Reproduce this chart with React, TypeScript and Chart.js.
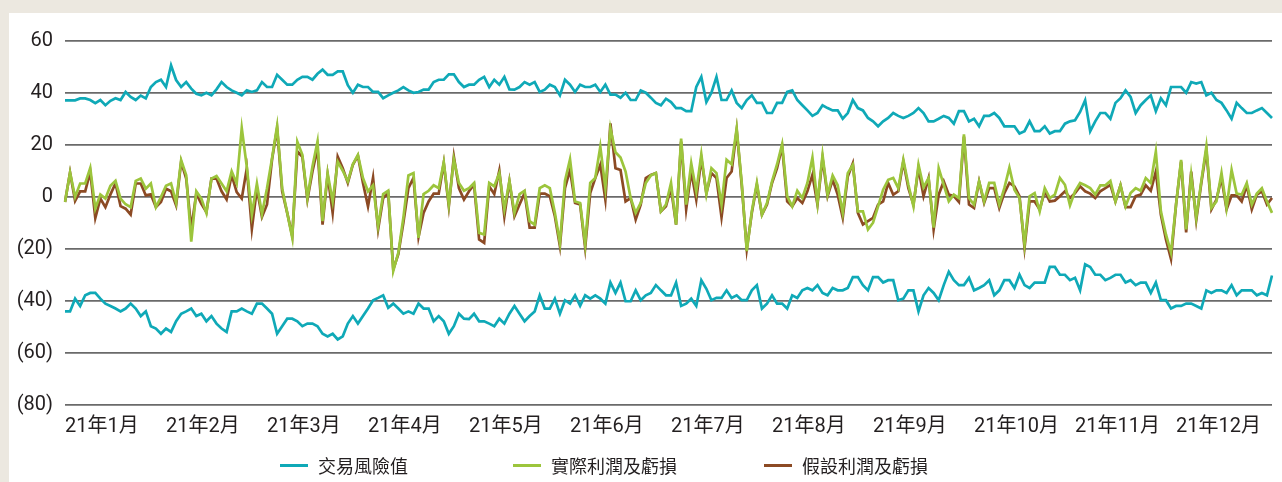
import React, { useEffect, useRef } from 'react';
import { Chart, registerables } from 'chart.js';

Chart.register(...registerables);

const monthLabels = ['21年1月', '21年2月', '21年3月', '21年4月', '21年5月', '21年6月', '21年7月', '21年8月', '21年9月', '21年10月', '21年11月', '21年12月'];
const pointsPerMonth = 20;

const yTicks = [60, 40, 20, 0, -20, -40, -60, -80];

// 交易風險值 (upper bound)
const varUpper = [
  37.2, 37.2, 37.2, 37.9, 37.9, 37.3, 36.1, 37.3, 35.3, 37, 38, 37.3, 40.4, 38.5, 37.3, 39, 37.9, 42.3, 44.2, 45.1,
  42.3, 50.6, 45, 42.3, 44.2, 41.7, 39.7, 39.1, 40.1, 39.1, 41.4, 44.2, 42.3, 41, 40.1, 39.1, 41, 40.4, 41, 44.2,
  42.3, 42.3, 47, 45.1, 43.2, 43.2, 45.1, 46.2, 46.2, 45.1, 47.4, 49, 47, 47, 48.3, 48.3, 43, 40.1, 43.2, 42.3,
  42.3, 40.4, 40.4, 38, 39.1, 40.1, 41, 42.3, 41, 40.1, 40.4, 41.3, 41.3, 44.2, 45.1, 45.1, 47.2, 47.2, 44.2, 42.3,
  43.2, 43.2, 45.1, 46.2, 42.3, 45.1, 43.2, 46.2, 41.4, 41.3, 42.3, 44.2, 43.2, 44.2, 40.4, 41.3, 43.2, 42.3, 39.1, 45.1,
  43.2, 40.4, 43.2, 42.3, 42.3, 43.2, 40.4, 43.2, 39.4, 39.4, 38.2, 40.1, 37.3, 37.3, 41, 40.1, 38.2, 36.2, 35.3, 37.8,
  36.5, 34.2, 34.2, 33, 33, 42.3, 46.2, 36.5, 40.1, 46.2, 37.3, 37.3, 41, 36.2, 34.2, 37.3, 39.1, 36.2, 36.2, 32.3,
  32.3, 36.2, 36.2, 40.4, 41, 37.3, 35.3, 33.3, 31.2, 32.3, 35.3, 34.2, 33.3, 33.3, 30.1, 32.3, 37.3, 34.2, 33.3, 30.4,
  29.1, 27.2, 29.1, 30.4, 32.3, 31.2, 30.4, 31.2, 32.3, 34.2, 32.3, 29.1, 29.1, 30.1, 31.2, 30.4, 28.2, 33, 33, 29.1,
  30.1, 27.2, 31.2, 31.2, 32.3, 30.4, 27.2, 27.2, 27.2, 24.4, 25.3, 29.1, 25.3, 25.3, 27.2, 24.4, 25.3, 25.3, 28.2, 29.1,
  29.5, 32.7, 37.2, 25.3, 29.1, 32.3, 32.3, 30.1, 36.2, 38, 41, 38.5, 32.3, 35.3, 37.3, 39.1, 33, 38, 35.3, 42.3,
  42.3, 42.3, 40.1, 44.2, 43.6, 44.2, 39.1, 40.1, 37.3, 36.2, 33.3, 30.1, 36.2, 34.2, 32.3, 32.3, 33.3, 34.2, 32.3, 30.4,
];

// 交易風險值 (lower bound)
const varLower = [
  -44, -44, -39.1, -41.9, -37.8, -36.9, -36.9, -39.1, -41, -41.9, -42.9, -44, -42.9, -41, -42.9, -45.8, -44, -49.7, -50.6, -52.6,
  -50.6, -51.9, -47.8, -44.9, -44, -42.9, -45.8, -44.9, -47.8, -45.8, -48.7, -50.6, -51.9, -44, -44, -42.9, -44, -44.9, -41, -41,
  -42.9, -44.9, -52.6, -49.7, -46.8, -46.8, -47.8, -49.7, -48.7, -48.7, -49.7, -52.6, -53.6, -52.6, -54.8, -53.6, -48.7, -45.8, -48.7, -45.8,
  -42.9, -39.7, -38.8, -37.8, -42.6, -41, -42.9, -44.9, -44, -44.9, -41, -42.9, -42.9, -47.8, -45.8, -47.8, -52.6, -49.7, -44.9, -46.8,
  -47, -44.9, -47.8, -47.8, -48.7, -49.7, -46.8, -48.7, -44.9, -41.9, -44.9, -47.8, -45.8, -44, -37.8, -42.9, -42.9, -39.1, -44.9, -39.7,
  -41, -37.8, -41.9, -37.8, -39.1, -37.8, -39.1, -41, -32.9, -36.9, -32.9, -40.1, -40.1, -35.9, -39.7, -37.8, -36.9, -33.9, -35.9, -37.8,
  -37.8, -32.9, -41.9, -41, -39.1, -41.9, -32, -35.3, -39.7, -38.8, -38.8, -35.9, -38.8, -37.8, -39.7, -39.7, -35.9, -33.9, -42.9, -41,
  -37.8, -41, -41, -42.9, -37.8, -38.8, -35.9, -35, -35.9, -33.9, -36.9, -37.8, -35, -35.9, -35.9, -35, -30.8, -30.8, -33.9, -35.9,
  -30.8, -30.8, -32.9, -32, -32, -39.7, -39.1, -35.9, -35.9, -44, -37.8, -35, -36.9, -39.7, -33.9, -28.8, -32, -33.9, -33.9, -31.1,
  -35.9, -35, -33.9, -32, -37.8, -35.9, -32, -32, -35, -29.9, -33.9, -35, -32.9, -32.9, -32.9, -26.9, -26.9, -29.9, -29.9, -32,
  -31.1, -35.9, -25.9, -26.9, -29.9, -29.9, -32, -31.1, -29.9, -29.9, -32.9, -32, -33.9, -32.9, -32.9, -36.9, -32.9, -39.7, -39.7, -42.9,
  -41.9, -41.9, -41, -41, -41.9, -42.9, -35.9, -36.9, -35.9, -35.9, -36.9, -33.9, -37.8, -35.9, -35.9, -35.9, -37.8, -36.9, -37.8, -30.2,
];

// 實際利潤及虧損
const actualPL = [
  -1.9, 9.4, 0, 5.2, 5.2, 11.2, -4.5, 1, -0.6, 4.3, 6.2, -0.6, -2.8, -3.9, 6.2, 7.1, 3.2, 5.2, -3.9, 0,
  4.3, 5.2, -2.2, 14.2, 8.4, -17.2, 2.2, -0.6, -6.2, 7.1, 8.1, 5.2, 2.2, 9.9, 5.2, 26.5, 11.6, -6.8, 5.2, -6.5,
  3.4, 14.9, 27.3, 3.4, -6.1, -15.7, 21.3, 16.2, -0.4, 11.7, 21.3, -9.3, 9.2, -1.7, 13.6, 10.1, 6, 12.6, 16.2, 7.3,
  2.2, 4.5, -11.2, 1.1, 2.4, -28.4, -21.4, -8, 8.3, 9.2, -15.7, 1.1, 2.4, 4.5, 3.4, 13.4, -2.9, 14.5, 5.4, 2.4,
  3.4, 5.4, -13.8, -14.4, 5.4, 4.1, 9.2, -4.8, 6.2, -6.1, 1.1, 2.4, -9.3, -10.6, 3.4, 4.5, 3.4, -6.1, -17.6, 6.2,
  14.5, -1.7, -2.3, -18.2, 5.4, 7.3, 19.4, 3.4, 26.4, 17.2, 15.2, 9.8, -0.4, -6.1, -2.3, 5.4, 8.3, 9.2, -5.5, -2.9,
  5.4, -10.6, 22.5, -2.9, 13, 2.2, 16.4, 1.1, 11.1, 9.2, -2.9, 14.3, 12.6, 26.4, 5.4, -20.8, -5.5, 5.4, -6.8, -2.3,
  6, 12.6, 20.3, 0.3, -3.6, 2.4, -0.4, 5.4, 15.2, -2.3, 16.2, 0.9, 8.3, 4.5, -6.1, 9.2, 12.4, -5.5, -5.5, -12.5,
  -9.9, -3.6, 2.8, 6.6, 7.3, 3.4, 14.3, 4.7, -3.6, 12.4, 3.7, 7.3, -11.8, 11.1, 4.7, -1.7, 0.9, -0.4, 24.1, -0.4,
  -2.9, 6, -1.7, 5.4, 5.4, -2.9, 3.4, 11.3, 2.8, -0.4, -18.2, 0.3, 1.5, -5.5, 3.4, -0.4, 0.9, 7.3, 4.7, -3.2,
  2.2, 5.4, 4.5, 3.4, 0.9, 4.5, 4.5, 6.2, -1.7, 4.5, -3.6, 1.5, 3.4, 2.4, 7.3, 5.4, 17.5, -5.5, -14.4, -21.4,
  -2.9, 14.3, -12.5, 8.5, -8, 6, 19.4, -4.2, -1.7, 9.2, -4.2, 10.4, 1.3, 0.9, 5.4, -2.9, 1.3, 3.4, -1.7, -6.1,
];

// 假設利潤及虧損
const hypotheticalPL = [
  -1.9, 9.4, -1.5, 2.2, 2.2, 9.7, -8.1, -0.6, -3.9, 1, 5.2, -3.5, -4.5, -6.8, 5.2, 5.2, 0.6, 1, -3.9, -1.9,
  3.2, 2.2, -3.2, 13.5, 7.1, -12.3, 1.3, -2.6, -5.8, 7.1, 7.1, 2.2, -0.9, 8.4, 1.9, -0.6, 11, -12.3, 3.2, -7.7,
  -2.9, 14.5, 26.4, 2.2, -6.1, -15, 17.5, 15.5, -1, 9.8, 18.7, -10.6, 8.5, -6.1, 15.5, 11.1, 5.4, 12.4, 15.9, 5.4,
  -3.6, 7.5, -12.5, -0.4, 1.5, -27.8, -22, -9.9, 3.4, 7.3, -15.4, -6.1, -1.7, 1.3, 1.3, 13, -3.6, 15.5, 3.4, -1,
  2.2, 4.7, -16.3, -17.6, 4.1, 1.1, 10.1, -7.4, 6, -7.4, -2.9, 1.5, -11.8, -11.8, 1.3, 1.3, 0.3, -7.4, -18.9, 3.4,
  10.4, -2.3, -2.9, -19.5, 1.5, 7.3, 12.4, -1, 28.3, 11.1, 10.4, -1.7, -0.4, -8.7, -2.9, 7.3, 8.5, 9.2, -5.5, -3.6,
  3.4, -10.6, 21.3, -4.8, 9.8, -1, 14.9, 1.5, 9.2, 7.3, -7.8, 7.3, 9.8, 25.7, 4.7, -20.1, -6.1, 4.7, -6.8, -2.9,
  5.4, 11.1, 19.4, -1.7, -3.6, -0.4, -2.3, 2.2, 8.5, -2.9, 14.9, 0.3, 6.6, 0.9, -8, 7.9, 13, -6.1, -10.6, -9.3,
  -8, -2.9, -1.7, 5.4, 0.9, 2.2, 13.6, 3.4, -2.9, 11.1, 0.3, 7.3, -12.5, 0.9, 6, 0.9, 0.3, -1.9, 23.2, -2.9,
  -4.2, 6, -2.3, 3.4, 3.4, -4.2, 1.5, 5.4, 4.1, 0.3, -19.5, -1.7, -1.7, -4.8, 2.2, -1.7, -1.4, 0.3, 2.2, -0.4,
  1.5, 4.1, 2.2, 1.3, -0.4, 2.2, 3.4, 4.7, -1.7, 4.5, -3.9, -3.9, 0.3, 0.9, 4.5, 2.4, 9.8, -6.8, -16.3, -23.8,
  -2.9, 13.6, -13.6, 9.8, -8.9, 5.4, 18.1, -4.8, -1, 7.3, -4.8, 0.6, 0.6, -1.7, 4.5, -4.8, 0.9, 2.2, -2.9, -0.4,
];

const seriesNames = ['交易風險值', '實際利潤及虧損', '假設利潤及虧損'];

const TEAL = '#0fa9b7';
const GREEN = '#9cc53c';
const BROWN = '#8c4a24';
const GRID = '#6a6a6a';
const TEXT = '#231f20';
const BEIGE = '#ece8e0';
const FONT = "Roboto, 'Noto Sans CJK TC', sans-serif";

const categoryLabels = varUpper.map((_, i) => monthLabels[Math.floor(i / pointsPerMonth)]);

export default function App() {
  const canvasRef = useRef<HTMLCanvasElement>(null);

  useEffect(() => {
    const canvas = canvasRef.current;
    if (!canvas) return;
    const chart = new Chart(canvas, {
      type: 'line',
      data: {
        labels: categoryLabels,
        datasets: [
          { label: seriesNames[0], data: varUpper, borderColor: TEAL, backgroundColor: TEAL },
          { label: seriesNames[0], data: varLower, borderColor: TEAL, backgroundColor: TEAL },
          { label: seriesNames[1], data: actualPL, borderColor: GREEN, backgroundColor: GREEN },
          { label: seriesNames[2], data: hypotheticalPL, borderColor: BROWN, backgroundColor: BROWN },
        ],
      },
      options: {
        animation: false,
        responsive: false,
        layout: { padding: { top: 28, bottom: 33, left: 0, right: 0 } },
        elements: {
          point: { radius: 0, hoverRadius: 0 },
          line: { borderWidth: 2.7, tension: 0, borderJoinStyle: 'miter' },
        },
        plugins: { legend: { display: false }, tooltip: { enabled: false } },
        scales: {
          x: {
            grid: { display: false, drawTicks: false },
            border: { display: false },
            ticks: {
              autoSkip: false,
              maxRotation: 0,
              minRotation: 0,
              align: 'start',
              padding: 10,
              color: TEXT,
              font: { family: FONT, size: 20 },
              callback: (_v: any, i: number) => (i % pointsPerMonth === 0 ? monthLabels[i / pointsPerMonth] : ''),
            },
          },
          y: {
            min: yTicks[yTicks.length - 1],
            max: yTicks[0],
            afterFit: (s: any) => {
              s.width = 56;
            },
            afterBuildTicks: (s: any) => {
              s.ticks = yTicks.map((v) => ({ value: v }));
            },
            grid: { color: GRID, lineWidth: 1.7, drawTicks: false },
            border: { display: false },
            ticks: {
              padding: 12,
              color: TEXT,
              font: { family: FONT, size: 20 },
              callback: (v: any) => (Number(v) < 0 ? `(${-Number(v)})` : `${v}`),
            },
          },
        },
      },
    });
    return () => chart.destroy();
  }, []);

  const legendItems = [
    { name: seriesNames[0], color: TEAL, left: 280 },
    { name: seriesNames[1], color: GREEN, left: 513 },
    { name: seriesNames[2], color: BROWN, left: 764 },
  ];

  return (
    <div style={{ position: 'fixed', left: 0, top: 0, width: 1282, height: 482, background: BEIGE, overflow: 'hidden' }}>
      <div style={{ position: 'absolute', left: 9, top: 13, width: 1273, height: 469, background: '#ffffff' }}>
        <canvas ref={canvasRef} width={1273} height={469} style={{ display: 'block', width: 1273, height: 469 }} />
      </div>
      {legendItems.map((it) => (
        <div
          key={it.name}
          style={{
            position: 'absolute',
            left: it.left,
            top: 453,
            height: 24,
            display: 'flex',
            alignItems: 'center',
            fontFamily: "'Noto Sans CJK TC', sans-serif",
            fontSize: 18,
            color: TEXT,
            whiteSpace: 'nowrap',
          }}
        >
          <span style={{ display: 'inline-block', width: 28, height: 3, background: it.color, marginRight: 10 }} />
          <span>{it.name}</span>
        </div>
      ))}
    </div>
  );
}
